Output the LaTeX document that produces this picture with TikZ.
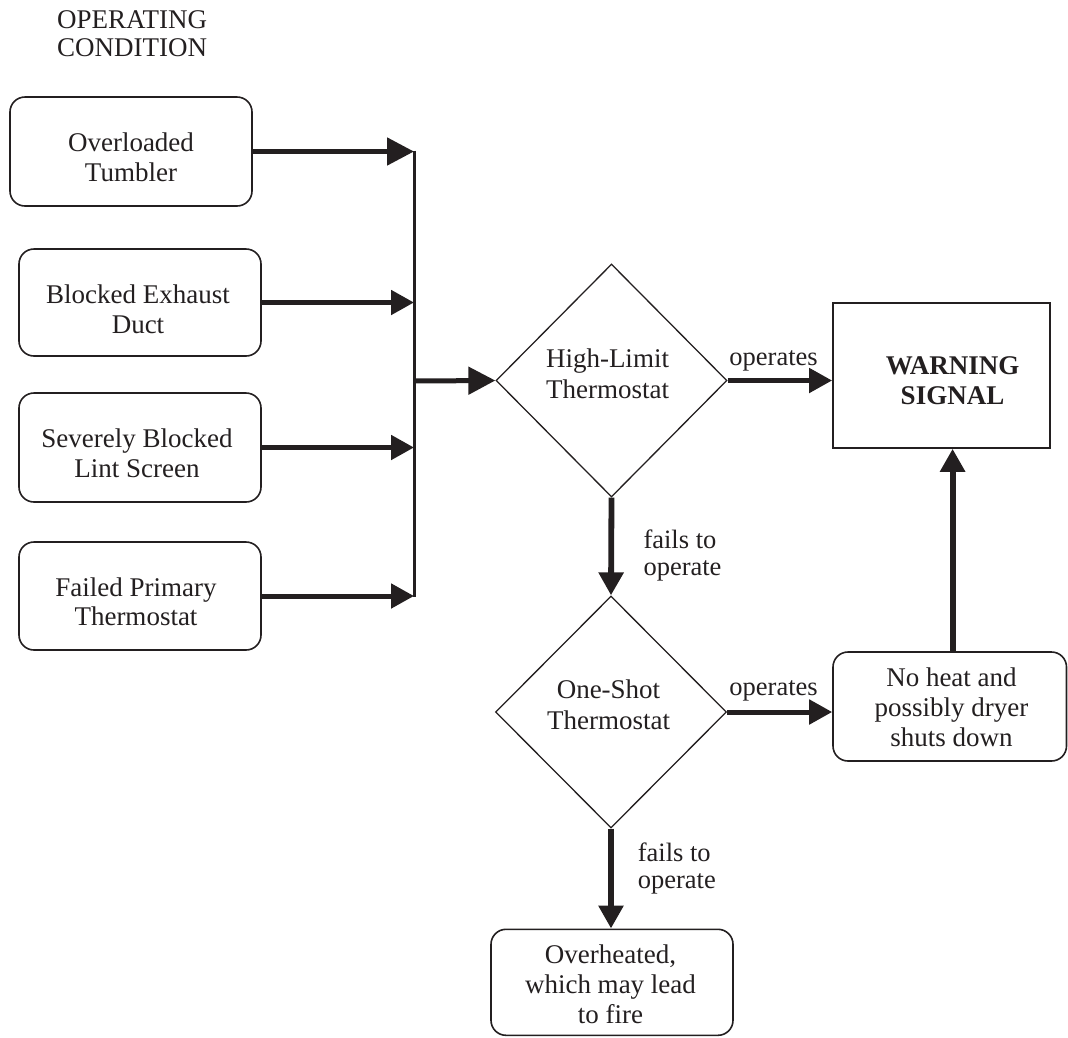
\documentclass[tikz,border=0pt]{standalone}
\usepackage{fontspec}
\setmainfont{Liberation Serif}
\usetikzlibrary{shapes.geometric,arrows.meta}
\definecolor{ink}{HTML}{231F20}
\begin{document}
\begin{tikzpicture}[x=1pt,y=-1pt,
  every node/.style={text=ink, align=center, inner sep=0pt},
  boxtext/.style={font=\fontsize{27}{30}\selectfont},
  condbox/.style={draw=ink, line width=1.6pt, rounded corners=15pt},
  decbox/.style={draw=ink, line width=1.3pt, shape=diamond},
  lbl/.style={font=\fontsize{26.5}{26.7}\selectfont},
  flow/.style={draw=ink, line width=5pt, -{Triangle[length=23pt,width=24pt]}},
  bigflow/.style={flow, -{Triangle[length=27pt,width=27pt]}},
  vflow/.style={flow, line width=5.8pt},
  busline/.style={draw=ink, line width=3pt}]
\useasboundingbox (0,0) rectangle (1068,1037);

% title
\node[font=\fontsize{27}{28}\selectfont, align=left, anchor=north west] (title) at (57,10.5) {OPERATING\\CONDITION};

% operating condition boxes
\node[condbox, minimum width=242pt, minimum height=109pt] (b1) at (131,151.5) {};
\node[boxtext] (b1t) at (131,157.5) {Overloaded\\Tumbler};
\node[condbox, minimum width=242pt, minimum height=107pt] (b2) at (140,302.5) {};
\node[boxtext] (b2t) at (138,309.5) {Blocked Exhaust\\Duct};
\node[condbox, minimum width=242pt, minimum height=109pt] (b3) at (140,447.5) {};
\node[boxtext] (b3t) at (137,453) {Severely Blocked\\Lint Screen};
\node[condbox, minimum width=242pt, minimum height=108pt] (b4) at (140,596) {};
\node[boxtext, font=\fontsize{27}{28.5}\selectfont] (b4t) at (136,602) {Failed Primary\\Thermostat};

% bus
\coordinate (bustop) at (414,150.5);
\coordinate (busbot) at (414,597);
\coordinate (bus) at (414,381);
\draw[busline] (bustop) -- (busbot);

% decisions
\node[decbox, minimum width=231pt, minimum height=233pt] (d1) at (611.5,380.5) {};
\node[boxtext, font=\fontsize{27}{31}\selectfont] (d1t) at (607.5,373.3) {High-Limit\\Thermostat};
\node[decbox, minimum width=231pt, minimum height=232pt] (d2) at (611,712) {};
\node[boxtext, font=\fontsize{27}{30.7}\selectfont] (d2t) at (608.5,704.5) {One-Shot\\Thermostat};

% outcomes
\node[draw=ink, line width=1.6pt, minimum width=217pt, minimum height=145pt] (warn) at (941.4,375.5) {};
\node[font=\fontsize{27}{30}\selectfont\bfseries] (warnt) at (952.5,380.9) {WARNING\\SIGNAL};
\node[condbox, minimum width=233.5pt, minimum height=109pt] (noheat) at (949.75,706.5) {};
\node[boxtext] (noheatt) at (951.5,707.5) {No heat and\\possibly dryer\\shuts down};
\node[condbox, minimum width=242pt, minimum height=106pt] (over) at (612,982.3) {};
\node[boxtext] (overt) at (610.5,984.1) {Overheated,\\which may lead\\to fire};

% connectors
\coordinate (up) at (952.6,652);
\draw[bigflow] (b1.east) -- (b1.east -| bus);
\draw[flow] (b2.east) -- (b2.east -| bus);
\draw[flow] (b3.east) -- (b3.east -| bus);
\draw[flow] (b4.east) -- (b4.east -| bus);
\draw[bigflow] (bus) -- (d1.west);
\draw[flow] (d1.east) -- (d1.east -| warn.west);
\draw[vflow] (d1.south) -- (d2.north);
\draw[flow] (d2.east) -- (d2.east -| noheat.west);
\draw[vflow] (d2.south) -- (d2.south |- over.north);
\draw[vflow] (up) -- (up |- warn.south);

% labels
\node[lbl, anchor=base] (op1) at (773.6,365) {operates};
\node[lbl, anchor=base] (op2) at (773.6,695) {operates};
\node[lbl, align=left, anchor=west] (f1) at (643.3,555.5) {fails to\\operate};
\node[lbl, align=left, anchor=west] (f2) at (637.6,868.8) {fails to\\operate};
\end{tikzpicture}
\end{document}
